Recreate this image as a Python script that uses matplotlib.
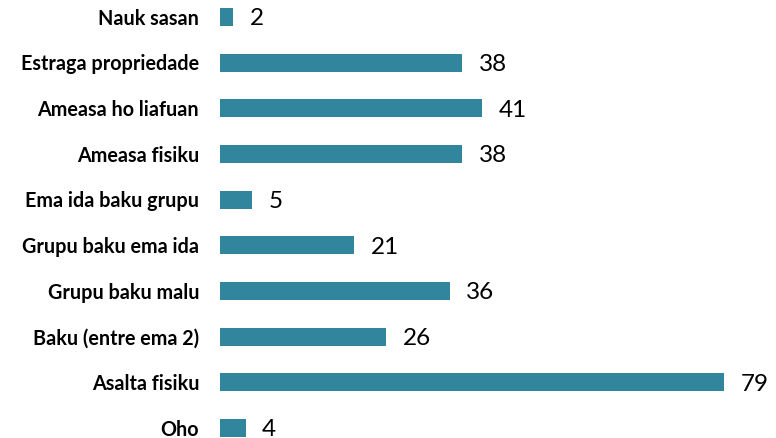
import numpy as np
import matplotlib
matplotlib.use('Agg')
import matplotlib.pyplot as plt

categories = ['Nauk sasan', 'Estraga propriedade', 'Ameasa ho liafuan',
              'Ameasa fisiku', 'Ema ida baku grupu', 'Grupu baku ema ida',
              'Grupu baku malu', 'Baku (entre ema 2)', 'Asalta fisiku', 'Oho']
values = [2, 38, 41, 38, 5, 21, 36, 26, 79, 4]

fig = plt.figure(figsize=(7.76, 4.39), dpi=100)
ax = fig.add_axes([220 / 776, 0, 556 / 776, 1])

pos = np.arange(len(categories))
ax.barh(pos, values, height=0.4, color='#31859C')

ax.set_xlim(0, 556 / 6.38)
ax.set_ylim(9 + 10 / 45.67, -18 / 45.67)

for s in ax.spines.values():
    s.set_visible(False)
ax.set_xticks([])
ax.set_yticks([])

# value labels just right of bars
for p, v in zip(pos, values):
    ax.annotate(str(v), (v, p), xytext=(12, -0.5), textcoords='offset points',
                va='center', ha='left', fontsize=17.5, family='Lato', color='black')

# category labels right aligned left of the axis
for p, c in zip(pos, categories):
    ax.annotate(c, (0, p), xytext=(-15, -0.5), textcoords='offset points',
                va='center', ha='right', fontsize=14.2, family='Lato',
                fontweight='bold', color='black', annotation_clip=False)

fig.savefig('out.png', dpi=100)
